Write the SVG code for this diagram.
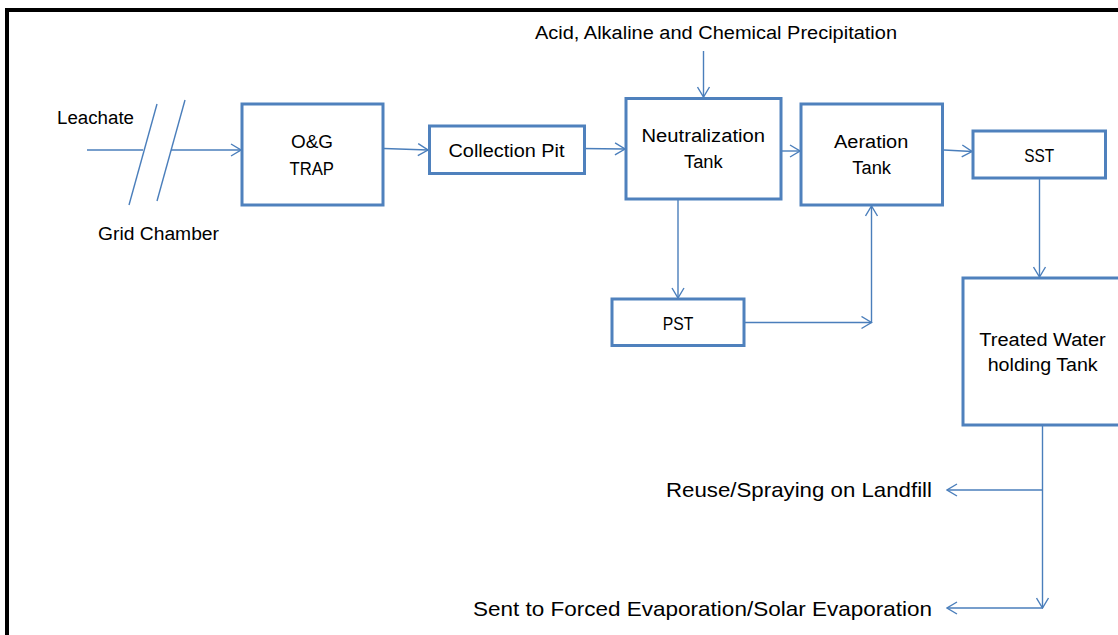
<svg xmlns="http://www.w3.org/2000/svg" width="1118" height="635" viewBox="0 0 1118 635">
<defs>
<style>
.box{fill:#fff;stroke:#4F81BD;stroke-width:3}
.c{fill:none;stroke:#4A7EBB;stroke-width:1.4}
.a{marker-end:url(#arr)}
text{font-family:"Liberation Sans",Arial,sans-serif;font-size:18px;fill:#000}
.big{font-size:21px}
</style>
<marker id="arr" viewBox="0 0 12 14" refX="11" refY="7" markerWidth="12" markerHeight="14" markerUnits="userSpaceOnUse" orient="auto">
<path d="M1,1 L11,7 L1,13" fill="none" stroke="#4A7EBB" stroke-width="1.4"/>
</marker>
</defs>
<rect width="1118" height="635" fill="#fff"/>
<path d="M7,640 V10 H1125" fill="none" stroke="#000" stroke-width="4"/>

<g id="connectors">
<line class="c" x1="87" y1="150" x2="143" y2="150"/>
<line class="c a" x1="171" y1="150" x2="241" y2="150"/>
<line class="c" x1="157" y1="104" x2="129" y2="205"/>
<line class="c" x1="185" y1="100" x2="157" y2="201"/>
<line class="c a" x1="384" y1="148.5" x2="428" y2="150"/>
<line class="c a" x1="581" y1="148.5" x2="625" y2="149"/>
<line class="c a" x1="703.5" y1="51" x2="703.5" y2="97"/>
<line class="c a" x1="782" y1="151" x2="800" y2="151"/>
<line class="c a" x1="944" y1="150" x2="972" y2="151.5"/>
<line class="c a" x1="1039.5" y1="179" x2="1039.5" y2="277"/>
<line class="c a" x1="678" y1="200" x2="678" y2="298"/>
<line class="c a" x1="745" y1="322.5" x2="871.5" y2="322.5"/>
<line class="c a" x1="871.5" y1="322.5" x2="871.5" y2="206"/>
<line class="c a" x1="1042.5" y1="426" x2="1042.5" y2="608"/>
<line class="c a" x1="1042.5" y1="490" x2="947" y2="490"/>
<line class="c a" x1="1042.5" y1="608" x2="947" y2="608"/>
</g>

<g id="labels">
<text x="57" y="124" textLength="77" lengthAdjust="spacingAndGlyphs">Leachate</text>
<text x="98" y="240" textLength="121" lengthAdjust="spacingAndGlyphs">Grid Chamber</text>
<text x="535" y="39" textLength="362" lengthAdjust="spacingAndGlyphs">Acid, Alkaline and Chemical Precipitation</text>
<text class="big" x="666" y="497" textLength="266" lengthAdjust="spacingAndGlyphs">Reuse/Spraying  on Landfill</text>
<text class="big" x="473" y="615.5" textLength="459" lengthAdjust="spacingAndGlyphs">Sent to Forced Evaporation/Solar Evaporation</text>
</g>

<g id="og-trap">
<rect class="box" x="242" y="104" width="141" height="101"/>
<text x="291" y="148" textLength="42" lengthAdjust="spacingAndGlyphs">O&amp;G</text>
<text x="289.5" y="175" textLength="44.5" lengthAdjust="spacingAndGlyphs">TRAP</text>
</g>

<g id="collection-pit">
<rect class="box" x="429.5" y="126" width="155" height="47.5"/>
<text x="448.5" y="156.5" textLength="116" lengthAdjust="spacingAndGlyphs">Collection Pit</text>
</g>

<g id="neutralization-tank">
<rect class="box" x="626" y="98.5" width="155" height="100.5"/>
<text x="641.5" y="141.5" textLength="123.5" lengthAdjust="spacingAndGlyphs">Neutralization</text>
<text x="684" y="168" textLength="38.7" lengthAdjust="spacingAndGlyphs">Tank</text>
</g>

<g id="aeration-tank">
<rect class="box" x="801" y="104" width="141.5" height="101"/>
<text x="834" y="148" textLength="74.3" lengthAdjust="spacingAndGlyphs">Aeration</text>
<text x="852.3" y="174" textLength="38.7" lengthAdjust="spacingAndGlyphs">Tank</text>
</g>

<g id="sst">
<rect class="box" x="973" y="131" width="132.5" height="47"/>
<text x="1024.3" y="161.5" textLength="30" lengthAdjust="spacingAndGlyphs">SST</text>
</g>

<g id="pst">
<rect class="box" x="612" y="299" width="132" height="46.5"/>
<text x="662.7" y="330" textLength="30.6" lengthAdjust="spacingAndGlyphs">PST</text>
</g>

<g id="treated-water-tank">
<rect class="box" x="963" y="278" width="200" height="147"/>
<text x="979.3" y="346" textLength="126.4" lengthAdjust="spacingAndGlyphs">Treated Water</text>
<text x="987.7" y="371" textLength="110" lengthAdjust="spacingAndGlyphs">holding Tank</text>
</g>
</svg>
